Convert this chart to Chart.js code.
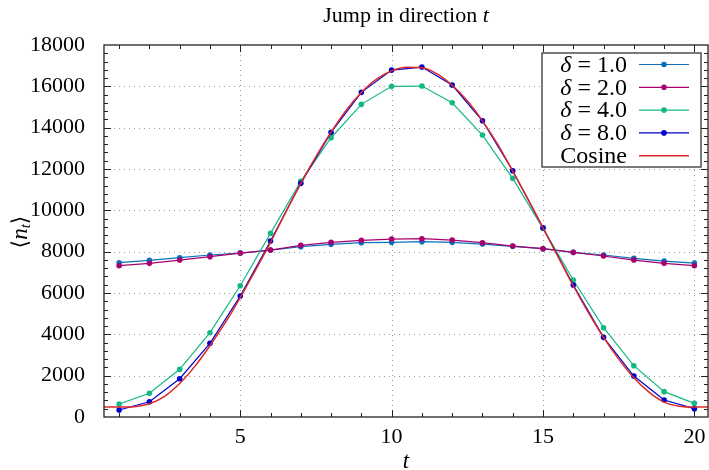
<!DOCTYPE html>
<html>
<head>
<meta charset="utf-8">
<script src="https://cdn.jsdelivr.net/npm/chart.js@4"></script>
<style>
  html, body { margin: 0; padding: 0; background: #fff; overflow: hidden; }
  #box { width: 709px; height: 470px; }
</style>
</head>
<body>
<div id="box"><canvas id="grafico"></canvas></div>
<script>
const tempos = [1, 2, 3, 4, 5, 6, 7, 8, 9, 10, 11, 12, 13, 14, 15, 16, 17, 18, 19, 20];

const delta1 = [7466, 7580, 7708, 7838, 7934, 8079, 8240, 8353, 8434, 8450, 8482, 8450, 8369, 8257, 8144, 7967, 7838, 7676, 7547, 7450];
const delta2 = [7321, 7434, 7595, 7756, 7934, 8079, 8305, 8450, 8547, 8611, 8627, 8563, 8434, 8272, 8144, 7967, 7789, 7595, 7434, 7321];
const delta4 = [629, 1145, 2306, 4080, 6353, 8887, 11400, 13513, 15128, 16000, 16013, 15206, 13643, 11548, 9129, 6628, 4322, 2482, 1226, 661];
const delta8 = [339, 740, 1853, 3565, 5854, 8515, 11306, 13774, 15709, 16786, 16932, 16062, 14335, 11916, 9160, 6386, 3855, 1983, 822, 403];

const cosTempos = [0.5, 1, 1.5, 2, 2.5, 3, 3.5, 4, 4.5, 5, 5.5, 6, 6.5, 7, 7.5, 8, 8.5, 9, 9.5, 10, 10.5,
    11, 11.5, 12, 12.5, 13, 13.5, 14, 14.5, 15, 15.5, 16, 16.5, 17, 17.5, 18, 18.5, 19, 19.5, 20, 20.5];
const cosValores = [480, 480, 500, 640, 1000, 1620, 2450, 3450, 4550, 5780, 7100, 8450, 9900, 11300, 12600,
    13780, 14850, 15700, 16350, 16750, 16920, 16900, 16600, 16050, 15300, 14330, 13200, 11900, 10550,
    9150, 7750, 6350, 5050, 3850, 2800, 1900, 1200, 720, 520, 480, 480];

const xTicks = [5, 10, 15, 20];
const yTicks = [0, 2000, 4000, 6000, 8000, 10000, 12000, 14000, 16000, 18000];

const legendas = ["1.0", "2.0", "4.0", "8.0", "Cosine"];
const cores = ["#0a72bd", "#a8006e", "#14b884", "#0000cc", "#dc2828"];

const FONTE = "'Liberation Serif', 'DejaVu Serif', serif";

function pontos(xs, ys) {
    return xs.map((x, i) => ({ x: x, y: ys[i] }));
}

function serie(label, valores, cor, ordem) {
    return {
        label: label,
        data: pontos(tempos, valores),
        borderColor: cor,
        backgroundColor: cor,
        borderWidth: 1.2,
        pointRadius: 2.8,
        pointHoverRadius: 2.8,
        pointBorderWidth: 0,
        order: ordem
    };
}

// texto com partes em italico, desenhado em sequencia
function textoMisto(ctx, partes, x, y, align) {
    let total = 0;
    partes.forEach(p => {
        ctx.font = p.font;
        total += ctx.measureText(p.t).width;
    });
    let cx = x;
    if (align === "right") cx = x - total;
    if (align === "center") cx = x - total / 2;
    partes.forEach(p => {
        ctx.font = p.font;
        ctx.fillText(p.t, cx, y + (p.dy || 0));
        cx += ctx.measureText(p.t).width;
    });
}

const molduraPlugin = {
    id: "moldura",
    beforeDatasetsDraw(chart) {
        const { ctx, chartArea: a, scales } = chart;
        ctx.save();
        ctx.strokeStyle = "#9a9a9a";
        ctx.lineWidth = 1;
        ctx.setLineDash([1, 4]);
        xTicks.forEach(v => {
            const px = Math.round(scales.x.getPixelForValue(v)) + 0.5;
            ctx.beginPath();
            ctx.moveTo(px, a.top);
            ctx.lineTo(px, a.bottom);
            ctx.stroke();
        });
        yTicks.slice(1, -1).forEach(v => {
            const py = Math.round(scales.y.getPixelForValue(v)) + 0.5;
            ctx.beginPath();
            ctx.moveTo(a.left, py);
            ctx.lineTo(a.right, py);
            ctx.stroke();
        });
        ctx.restore();
    },
    afterDatasetsDraw(chart) {
        const { ctx, chartArea: a, scales } = chart;
        ctx.save();
        ctx.strokeStyle = "#222";
        ctx.lineWidth = 1.3;
        ctx.strokeRect(a.left, a.top, a.right - a.left, a.bottom - a.top);

        ctx.lineWidth = 1;
        ctx.beginPath();
        for (let t = 1; t <= 20; t++) {
            const px = Math.round(scales.x.getPixelForValue(t)) + 0.5;
            const len = xTicks.includes(t) ? 7 : 4;
            ctx.moveTo(px, a.bottom);
            ctx.lineTo(px, a.bottom - len);
            ctx.moveTo(px, a.top);
            ctx.lineTo(px, a.top + len);
        }
        for (let v = 400; v < 18000; v += 400) {
            const py = Math.round(scales.y.getPixelForValue(v)) + 0.5;
            const len = v % 2000 === 0 ? 7 : 4;
            ctx.moveTo(a.left, py);
            ctx.lineTo(a.left + len, py);
            ctx.moveTo(a.right, py);
            ctx.lineTo(a.right - len, py);
        }
        ctx.stroke();

        // rotulos do eixo x
        ctx.fillStyle = "#000";
        ctx.font = "22px " + FONTE;
        ctx.textAlign = "center";
        ctx.textBaseline = "middle";
        xTicks.forEach(v => {
            ctx.fillText(String(v), scales.x.getPixelForValue(v), a.bottom + 20);
        });
        ctx.textAlign = "left";

        // legenda
        const bx = 542, by = 53, bw = 159, bh = 114;
        ctx.fillStyle = "#fff";
        ctx.fillRect(bx, by, bw, bh);
        ctx.strokeStyle = "#333";
        ctx.lineWidth = 1.3;
        ctx.strokeRect(bx, by, bw, bh);

        legendas.forEach((txt, i) => {
            const y = 64.5 + i * 22.8;
            const partes = i < 4
                ? [{ t: "δ", font: "italic 24px " + FONTE }, { t: " = " + txt, font: "24px " + FONTE }]
                : [{ t: txt, font: "24px " + FONTE }];
            ctx.fillStyle = "#000";
            textoMisto(ctx, partes, 627, y + 1, "right");

            ctx.strokeStyle = cores[i];
            ctx.lineWidth = i < 4 ? 1.2 : 1.5;
            ctx.beginPath();
            ctx.moveTo(639, y);
            ctx.lineTo(689, y);
            ctx.stroke();
            if (i < 4) {
                ctx.fillStyle = cores[i];
                ctx.beginPath();
                ctx.arc(664, y, 2.8, 0, Math.PI * 2);
                ctx.fill();
            }
        });
        ctx.restore();
    },
    afterDraw(chart) {
        const { ctx, chartArea: a } = chart;
        const meio = (a.left + a.right) / 2;
        ctx.save();
        ctx.fillStyle = "#000";
        ctx.textBaseline = "middle";
        textoMisto(ctx, [
            { t: "Jump in direction ", font: "22px " + FONTE },
            { t: "t", font: "italic 22px " + FONTE }
        ], meio, 16, "center");

        textoMisto(ctx, [{ t: "t", font: "italic 23px " + FONTE }], meio, 462, "center");

        ctx.translate(21, 232);
        ctx.rotate(-Math.PI / 2);
        textoMisto(ctx, [
            { t: "⟨", font: "22px " + FONTE },
            { t: "n", font: "italic 23px " + FONTE },
            { t: "t", font: "italic 15px " + FONTE, dy: 5 },
            { t: "⟩", font: "22px " + FONTE }
        ], 0, 0, "center");
        ctx.restore();
    }
};

const ctx = document.getElementById("grafico").getContext("2d");

new Chart(ctx, {
    type: "line",
    data: {
        datasets: [
            serie("δ = 1.0", delta1, cores[0], 4),
            serie("δ = 2.0", delta2, cores[1], 3),
            serie("δ = 4.0", delta4, cores[2], 2),
            serie("δ = 8.0", delta8, cores[3], 1),
            {
                label: "Cosine",
                data: pontos(cosTempos, cosValores),
                borderColor: cores[4],
                backgroundColor: cores[4],
                borderWidth: 1.5,
                pointRadius: 0,
                cubicInterpolationMode: "monotone",
                order: 0
            }
        ]
    },
    options: {
        responsive: true,
        maintainAspectRatio: false,
        animation: false,
        layout: { autoPadding: false, padding: { top: 45, right: 1, left: 0, bottom: 0 } },
        scales: {
            x: {
                type: "linear",
                min: 0.5,
                max: 20.45,
                grid: { display: false },
                border: { display: false },
                afterFit: s => { s.height = 53; },
                afterBuildTicks: s => { s.ticks = xTicks.map(v => ({ value: v })); },
                ticks: { display: false }
            },
            y: {
                min: 0,
                max: 18000,
                grid: { display: false },
                border: { display: false },
                afterFit: s => { s.width = 104; },
                afterBuildTicks: s => { s.ticks = yTicks.map(v => ({ value: v })); },
                ticks: {
                    color: "#000",
                    padding: 11,
                    font: { family: FONTE, size: 22 },
                    callback: v => String(v)
                }
            }
        },
        plugins: {
            legend: { display: false },
            title: { display: false },
            tooltip: { enabled: false }
        }
    },
    plugins: [molduraPlugin]
});
</script>
</body>
</html>
